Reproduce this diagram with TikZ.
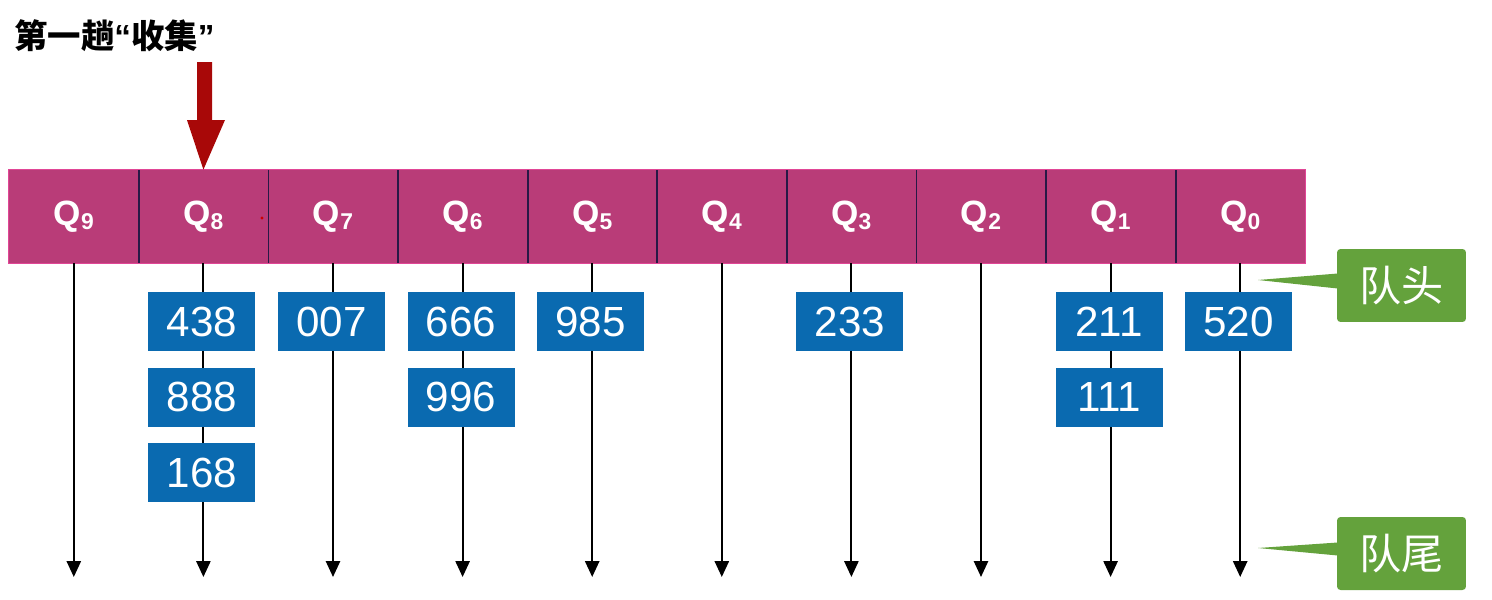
\documentclass[tikz,border=0pt]{standalone}
\usepackage{fontspec}
\setmainfont{Liberation Sans}
\newfontfamily\cjk{Noto Sans CJK SC}
\usetikzlibrary{arrows.meta,calc}
\definecolor{qmag}{RGB}{185,60,120}
\definecolor{qedge}{RGB}{225,70,150}
\definecolor{qdiv}{RGB}{40,25,70}
\definecolor{kblue}{RGB}{10,106,176}
\definecolor{tagreen}{RGB}{100,162,60}
\definecolor{darkred}{RGB}{168,8,8}
\tikzset{
  qcell/.style={fill=qmag, minimum width=2.592cm, minimum height=1.86cm,
    inner sep=0pt, text=white, font=\fontsize{20}{20}\selectfont\bfseries},
  keybox/.style={fill=kblue, minimum width=2.14cm, minimum height=1.18cm,
    inner sep=0pt, text=white, font=\fontsize{24}{24}\selectfont},
  tagbox/.style={fill=tagreen, rounded corners=2pt, minimum width=2.58cm,
    minimum height=1.46cm, inner sep=0pt, text=white,
    font=\cjk\fontsize{24}{24}\selectfont},
  chain/.style={draw=black, line width=1.2pt, -{Triangle[length=9pt,width=8pt]}},
}
\newcommand{\qlab}[1]{\raisebox{-2.5pt}{Q\raisebox{-0.12em}{\fontsize{13}{13}\selectfont #1}}}
\begin{document}
\begin{tikzpicture}[x=0.02cm, y=-0.02cm]
\useasboundingbox (0,0) rectangle (1492,599);

% title
\node[anchor=west, inner sep=0pt, font=\fontsize{19}{20}\selectfont\bfseries]
  (title) at (14,36) {{\cjk\bfseries 第一趟}“{\cjk\bfseries 收集}”};

% queue heads Q9 ... Q0
\foreach \i/\k in {0/9,1/8,2/7,3/6,4/5,5/4,6/3,7/2,8/1,9/0}{
  \node[qcell] (q\k) at ({73.8+129.6*\i},216.5) {\qlab{\k}};
  \coordinate (e\k) at ({73.8+129.6*\i},577);
}
% dividers and outline of the bar
\foreach \k in {9,8,7,6,5,4,3,2,1}{
  \draw[qdiv, line width=1pt] (q\k.north east) -- (q\k.south east);
}
\draw[qedge, line width=0.6pt] (q9.north west) rectangle (q0.south east);
\fill[red!80!black] (262,218) circle (1.6);

% queue chains
\foreach \k in {9,8,7,6,5,4,3,2,1,0}{
  \draw[chain] (q\k.south) -- (e\k);
}

% collection pointer
\fill[darkred] (197,62) -- (212,62) -- (212,120) -- (225,120)
  -- (q8.north) -- (187,120) -- (197,120) -- cycle;

% keys held in each queue
\foreach \k/\row/\val in {8/0/438, 8/1/888, 8/2/168, 7/0/007, 6/0/666, 6/1/996,
                          5/0/985, 3/0/233, 1/0/211, 1/1/111, 0/0/520}{
  \node[keybox] (k\val) at ($(q\k.center)+(-1.5,{105+75.5*\row})$) {\val};
}

% head and tail tags
\node[tagbox] (head) at (1401.5,285.5) {队头};
\node[tagbox] (tail) at (1401.5,553.5) {队尾};
\coordinate (hp) at (1258,280);
\coordinate (tp) at (1258,548);
\fill[tagreen] (hp) -- ($(head.west)+(1,-12)$) -- ($(head.west)+(1,3)$) -- cycle;
\fill[tagreen] (tp) -- ($(tail.west)+(1,-11)$) -- ($(tail.west)+(1,2)$) -- cycle;
\end{tikzpicture}
\end{document}
